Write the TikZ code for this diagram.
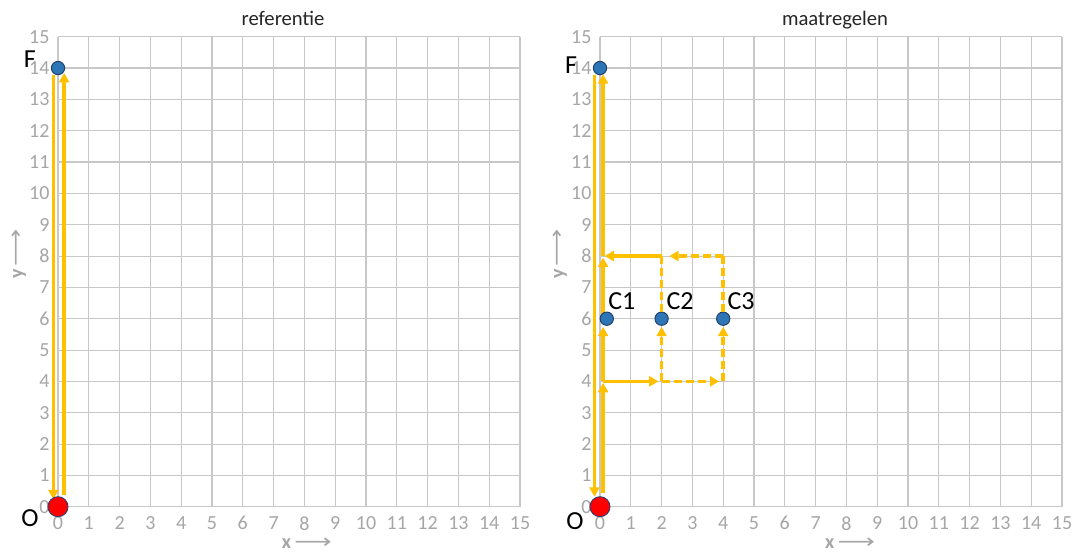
\documentclass[tikz,border=0pt]{standalone}
\usepackage{fontspec}
\usepackage{graphicx}
\setmainfont{Carlito}
\newfontfamily\dejavu{DejaVu Sans}
\usetikzlibrary{arrows.meta}
\definecolor{gridc}{HTML}{C8C8C8}
\definecolor{labc}{HTML}{A6A6A6}
\definecolor{orng}{HTML}{FFC000}
\definecolor{bluef}{HTML}{2E75B6}
\definecolor{blued}{HTML}{1F3F66}
\definecolor{redf}{HTML}{FF0000}
\definecolor{redd}{HTML}{2F3F6F}
\definecolor{titlec}{HTML}{262626}
\newcommand{\axarrow}{{\dejavu\mdseries\scalebox{1.3}[1]{⟶}}}
\tikzset{
  gridline/.style={draw=gridc, line width=0.8pt},
  ticklab/.style={text=labc, font=\fontsize{15}{16}\selectfont, inner sep=0pt},
  charttitle/.style={text=titlec, font=\fontsize{15.5}{16}\selectfont, inner sep=0pt},
  axtitle/.style={text=labc, font=\fontsize{15}{15}\selectfont\bfseries, inner sep=0pt},
  orline/.style={draw=orng, line width=2.6pt},
  orarrow/.style={orline, -{Triangle[width=7.5pt,length=7pt]}},
  ordash/.style={dash pattern=on 6pt off 3pt},
  bluept/.style={circle, fill=bluef, draw=blued, line width=0.7pt, minimum size=10pt, inner sep=0pt},
  redpt/.style={circle, fill=redf, draw=redd, line width=0.7pt, minimum size=15pt, inner sep=0pt},
  ptlab/.style={text=black, font=\fontsize{19.5}{20}\selectfont, inner sep=0pt}
}
\begin{document}
\begin{tikzpicture}[x=0.75pt, y=-0.75pt]
\useasboundingbox (0,0) rectangle (1073,552);
\fill[white] (0,0) rectangle (1073,552);
\node[charttitle, anchor=base] (t1) at (283,26) {referentie};
\node[charttitle, anchor=base] (t2) at (835,26) {maatregelen};

% ---------- left chart ----------
\begin{scope}[shift={(58,506.7)}, x=23.1pt, y=23.5pt]
  \foreach \i in {0,...,15} {
    \draw[gridline] (\i,0) -- (\i,15);
    \draw[gridline] (0,\i) -- (15,\i);
    \node[ticklab, anchor=east] (Ly\i) at (-0.27,\i) {\i};
    \node[ticklab] (Lx\i) at (\i,-0.53) {\i};
  }
  \node[axtitle, anchor=base] (Lxt) at (8.08,-1.32) {x\,\axarrow};
  \node[axtitle, rotate=90, anchor=base] (Lyt) at (-1.14,8.07) {y\,\axarrow};
  \coordinate (La) at (-0.15,13.78);
  \coordinate (Lb) at (-0.15,0.24);
  \coordinate (Lc) at (0.2,0.37);
  \coordinate (Ld) at (0.2,13.84);
  \draw[orarrow] (La) -- (Lb);
  \draw[orarrow] (Lc) -- (Ld);
  \node[bluept] (F1) at (0,14) {};
  \node[redpt] (O1) at (0,0) {};
  \node[ptlab] (F1l) at (-0.91,14.29) {F};
  \node[ptlab] (O1l) at (-0.91,-0.36) {O};
\end{scope}

% ---------- right chart ----------
\begin{scope}[shift={(600,506.7)}, x=23.1pt, y=23.5pt]
  \foreach \i in {0,...,15} {
    \draw[gridline] (\i,0) -- (\i,15);
    \draw[gridline] (0,\i) -- (15,\i);
    \node[ticklab, anchor=east] (Ry\i) at (-0.27,\i) {\i};
    \node[ticklab] (Rx\i) at (\i,-0.53) {\i};
  }
  \node[axtitle, anchor=base] (Rxt) at (8.12,-1.32) {x\,\axarrow};
  \node[axtitle, rotate=90, anchor=base] (Ryt) at (-1.17,8.07) {y\,\axarrow};
  \coordinate (Ra) at (-0.18,13.78);
  \coordinate (Rb) at (-0.18,0.32);
  \coordinate (P0) at (0.1,0.43);
  \coordinate (P4) at (0.1,4);
  \coordinate (P4t) at (0.1,3.95);
  \coordinate (P6b) at (0.1,5.74);
  \coordinate (P6) at (0.1,6.1);
  \coordinate (P8) at (0.1,8);
  \coordinate (P8t) at (0.1,7.95);
  \coordinate (P8h) at (0.15,8);
  \coordinate (P14) at (0.1,13.8);
  \coordinate (Q24) at (2,4);
  \coordinate (Q24t) at (1.9,4);
  \coordinate (Q44) at (4,4);
  \coordinate (Q44t) at (3.87,4);
  \coordinate (Q26b) at (2,5.74);
  \coordinate (Q46b) at (4,5.74);
  \coordinate (Q28) at (2,8);
  \coordinate (Q28t) at (2.25,8);
  \coordinate (Q48) at (4,8);
  \draw[orarrow] (Ra) -- (Rb);
  \draw[orarrow] (P0) -- (P4t);
  \draw[orarrow] (P4) -- (P6b);
  \draw[orarrow] (P6) -- (P8t);
  \draw[orarrow] (P8) -- (P14);
  \draw[orarrow] (P4) -- (Q24t);
  \draw[orarrow, ordash] (Q24) -- (Q44t);
  \draw[orarrow, ordash] (Q24) -- (Q26b);
  \draw[orarrow, ordash] (Q44) -- (Q46b);
  \node[bluept] (C2) at (2,6) {};
  \node[bluept] (C3) at (4,6) {};
  \draw[orline, ordash] (C2) -- (Q28);
  \draw[orline, ordash] (C3) -- (Q48);
  \draw[orarrow, ordash] (Q48) -- (Q28t);
  \draw[orarrow] (Q28) -- (P8h);
  \node[bluept] (C1) at (0.22,6) {};
  \node[bluept] (F2) at (0,14) {};
  \node[redpt] (O2) at (0,0) {};
  \node[ptlab] (F2l) at (-0.94,14.1) {F};
  \node[ptlab] (O2l) at (-0.81,-0.46) {O};
  \node[ptlab] (C1l) at (0.71,6.57) {C1};
  \node[ptlab] (C2l) at (2.6,6.57) {C2};
  \node[ptlab] (C3l) at (4.58,6.57) {C3};
\end{scope}
\end{tikzpicture}
\end{document}
